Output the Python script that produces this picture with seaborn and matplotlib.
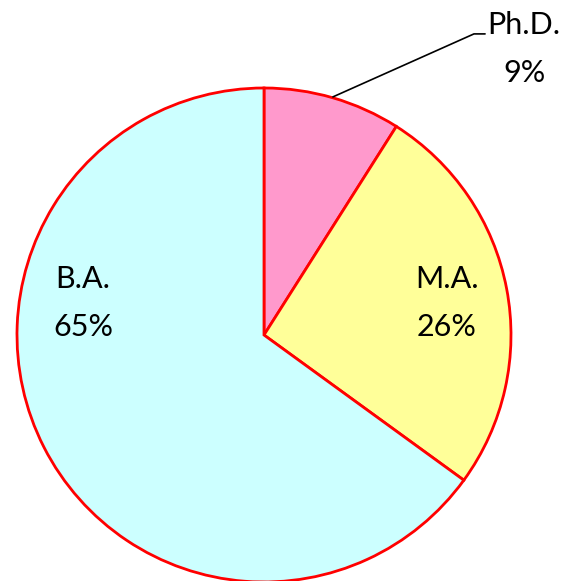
import matplotlib
matplotlib.use('Agg')
import matplotlib.pyplot as plt
import seaborn as sns

# Data
degrees = ['Ph.D.', 'M.A.', 'B.A.']
shares = [9, 26, 65]
colors = ['#FF99CC', '#FFFF99', '#CCFFFF']

sns.set_style('white')
plt.rcParams['font.family'] = ['Lato', 'DejaVu Sans']

fig = plt.figure(figsize=(5.65, 5.81), dpi=100)
# square axes holding the pie (radius 247 px, centre at 264, 335)
ax = fig.add_axes([17 / 565, -1 / 581, 494 / 565, 494 / 581])

ax.pie(shares, colors=colors, startangle=90, counterclock=False,
       wedgeprops=dict(edgecolor='red', linewidth=2))
ax.set_xlim(-1, 1)
ax.set_ylim(-1, 1)
ax.set_aspect('equal')
ax.axis('off')

# Labels
pos = {'Ph.D.': (1.053, 1.158), 'M.A.': (0.741, 0.13), 'B.A.': (-0.733, 0.13)}
for name, val in zip(degrees, shares):
    x, y = pos[name]
    ax.text(x, y, f'{name}\n{val}%', ha='center', va='center', fontsize=22,
            linespacing=1.85, color='black', clip_on=False)

# leader line for Ph.D.
ax.plot([0.279, 0.850, 0.895], [0.964, 1.219, 1.219], color='black',
        linewidth=1.2, clip_on=False)

fig.savefig('out.png', dpi=100)
plt.close(fig)
